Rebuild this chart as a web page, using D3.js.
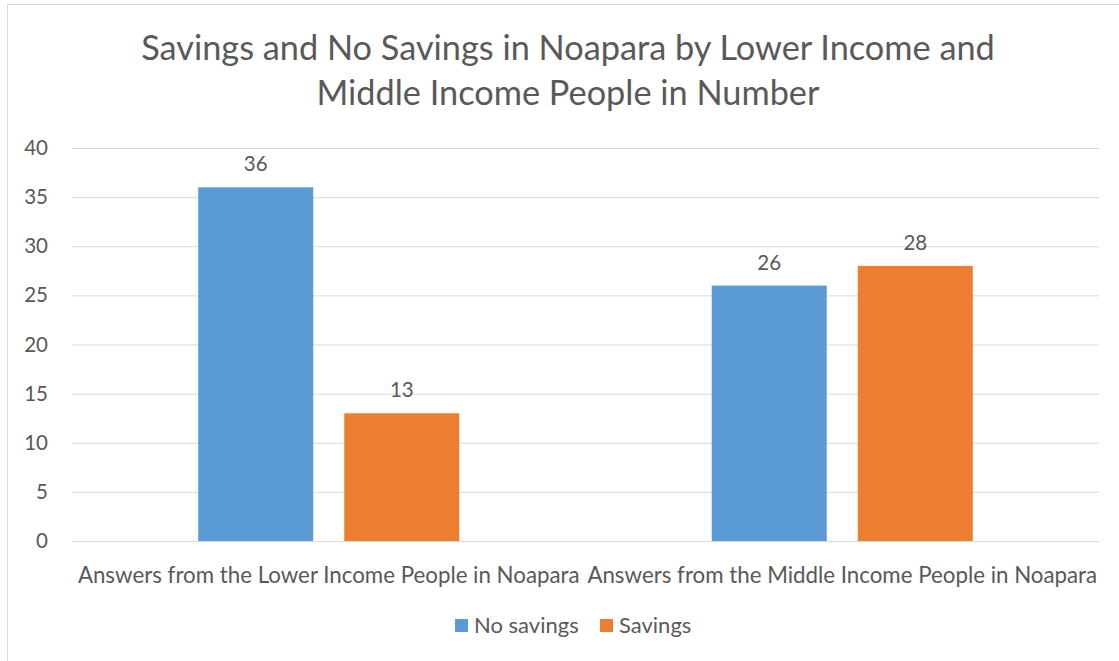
<!DOCTYPE html>
<html><head><meta charset="utf-8">
<script src="https://cdn.jsdelivr.net/npm/d3@7"></script>
<style>body{margin:0;background:#fff}svg{display:block}text{font-family:Lato,"Open Sans",sans-serif;fill:#595959}</style>
</head><body><svg id="c" width="1119" height="661"></svg>
<script>
const categories = ["Answers from the Lower Income People in Noapara", "Answers from the Middle Income People in Noapara"];
const seriesNames = ["No savings", "Savings"];
const noSavings = [36, 26];
const savings = [13, 28];
const yTicks = [0, 5, 10, 15, 20, 25, 30, 35, 40];
const titleLines = ["Savings and No Savings in Noapara by Lower Income and", "Middle Income People in Number"];
const colors = ["#5B9BD5", "#ED7D31"];

(function () {
const svg = d3.select("#c");
svg.append("rect").attr("x", 7.5).attr("y", 4.5).attr("width", 1200).attr("height", 700)
  .attr("fill", "none").attr("stroke", "#D9D9D9");

const pL = 72, pR = 1099, pT = 148, pB = 541;
const x = d3.scaleBand().domain(categories).range([pL, pR]);
const y = d3.scaleLinear().domain([0, 40]).range([pB, pT]);
const barW = x.bandwidth() * 115 / 513.5;
const gap = barW * 0.27;
const inner = d3.scaleBand().domain(seriesNames).range([0, 2 * barW + gap]).paddingInner(gap / (barW + gap)).paddingOuter(0);

svg.append("g").selectAll("line").data(yTicks).join("line")
  .attr("x1", pL).attr("x2", pR).attr("y1", d => y(d) + 0.5).attr("y2", d => y(d) + 0.5)
  .attr("stroke", "#D9D9D9").attr("stroke-width", 1);

const yAxis = d3.axisLeft(y).tickValues(yTicks).tickSize(0).tickPadding(0);
const ga = svg.append("g").attr("transform", `translate(${pL - 24},0)`).call(yAxis);
ga.select(".domain").remove();
ga.selectAll("text").style("font-family", "Lato").style("font-size", "20.5px").attr("fill", "#595959");

const data = [];
categories.forEach((c, i) => {
  data.push({c, s: seriesNames[0], v: noSavings[i], col: colors[0]});
  data.push({c, s: seriesNames[1], v: savings[i], col: colors[1]});
});
const groupOffset = (x.bandwidth() - (2 * barW + gap)) / 2;
const bx = d => x(d.c) + groupOffset + inner(d.s);

svg.append("g").selectAll("rect").data(data).join("rect")
  .attr("x", bx).attr("width", inner.bandwidth())
  .attr("y", d => y(d.v)).attr("height", d => y(0) - y(d.v))
  .attr("fill", d => d.col);

svg.append("g").selectAll("text").data(data).join("text")
  .attr("x", d => bx(d) + inner.bandwidth() / 2).attr("y", d => y(d.v) - 16)
  .attr("text-anchor", "middle").style("font-size", "20.5px").text(d => d.v);

const xAxis = d3.axisBottom(x).tickSize(0).tickPadding(0);
const gx = svg.append("g").attr("transform", `translate(0,${pB})`).call(xAxis);
gx.select(".domain").remove();
gx.selectAll("text").attr("dy", null).attr("y", 42).style("font-family", "Lato").style("font-size", "22.3px").attr("fill", "#595959");

svg.append("g").selectAll("text").data(titleLines).join("text")
  .attr("x", 568).attr("y", (d, i) => 60 + i * 45).attr("text-anchor", "middle")
  .style("font-size", "34.3px").text(d => d);

const lg = svg.append("g");
const lx = [455, 600];
seriesNames.forEach((s, i) => {
  lg.append("rect").attr("x", lx[i]).attr("y", 619).attr("width", 13).attr("height", 13).attr("fill", colors[i]);
  lg.append("text").attr("x", lx[i] + 19).attr("y", 633).style("font-size", "22px").text(s);
});
})();
</script></body></html>
